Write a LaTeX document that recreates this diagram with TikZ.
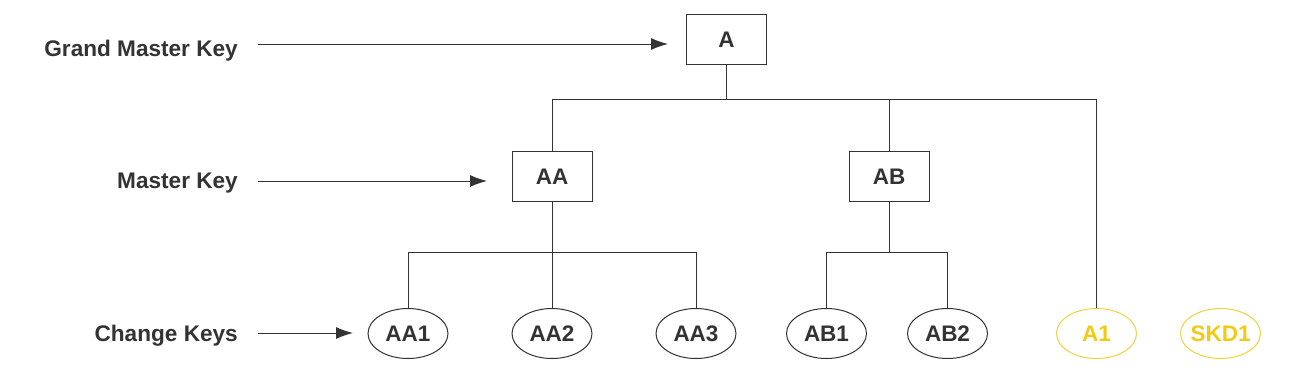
\documentclass[tikz,border=0pt]{standalone}
\usepackage{fontspec}
\setmainfont{Liberation Sans}
\usetikzlibrary{arrows.meta,shapes.geometric}
\definecolor{ink}{RGB}{51,51,51}
\definecolor{gold}{RGB}{242,202,20}
\definecolor{goldline}{RGB}{240,210,60}
\tikzset{
  lbl/.style={font=\bfseries\fontsize{22.6}{26}\selectfont, text=ink, inner sep=0pt, anchor=base east},
  keybox/.style={draw=ink, line width=1pt, minimum width=80pt, minimum height=50pt, inner sep=0pt, font=\bfseries\fontsize{22.5}{26}\selectfont, text=ink},
  keyell/.style={ellipse, draw=ink, line width=1pt, minimum width=80pt, minimum height=50pt, inner sep=0pt, inner xsep=-12pt, font=\bfseries\fontsize{22.5}{26}\selectfont, text=ink},
  goldell/.style={keyell, draw=goldline, text=gold},
  link/.style={draw=ink, line width=1pt},
  arr/.style={draw=ink, line width=1pt, -{Latex[length=17pt,width=12pt]}}
}
\begin{document}
\begin{tikzpicture}[x=1pt,y=-1pt]
\useasboundingbox (0,0) rectangle (1309,381);
% labels
\node[lbl] (gmk) at (238,56) {Grand Master Key};
\node[lbl] (mk) at (238,188.5) {Master Key};
\node[lbl] (ck) at (238,341.5) {Change Keys};
\coordinate (gmks) at (258,44);
\coordinate (gmke) at (668,44);
\coordinate (mks) at (258,181);
\coordinate (mke) at (487,181);
\coordinate (cks) at (258,333);
\coordinate (cke) at (353,333);
% boxes
\node[keybox] (A) at (726.5,39.5) {A};
\node[keybox] (AA) at (552,176.5) {AA};
\node[keybox] (AB) at (889,176.5) {AB};
% ellipses
\node[keyell] (AA1) at (408,333.5) {AA1};
\node[keyell] (AA2) at (552,333.5) {AA2};
\node[keyell] (AA3) at (696,333.5) {AA3};
\node[keyell] (AB1) at (826.5,333.5) {AB1};
\node[keyell] (AB2) at (947.5,333.5) {AB2};
\node[goldell] (A1) at (1096.5,333.5) {A1};
\node[goldell] (SKD1) at (1220.5,333.5) {SKD1};
% arrows
\draw[arr] (gmks) -- (gmke);
\draw[arr] (mks) -- (mke);
\draw[arr] (cks) -- (cke);
% tree
\coordinate (b1) at (726.5,99);
\coordinate (b2) at (552,252);
\coordinate (b3) at (889,252);
\draw[link] (A.south) -- (b1);
\draw[link] (AA.north) |- (b1);
\draw[link] (AB.north) -- (AB.north |- b1);
\draw[link] (A1.north) |- (b1);
\draw[link] (AA.south) -- (AA2.north);
\draw[link] (AA1.north) |- (b2);
\draw[link] (AA3.north) |- (b2);
\draw[link] (AB.south) -- (b3);
\draw[link] (AB1.north) |- (b3);
\draw[link] (AB2.north) |- (b3);
\end{tikzpicture}
\end{document}
